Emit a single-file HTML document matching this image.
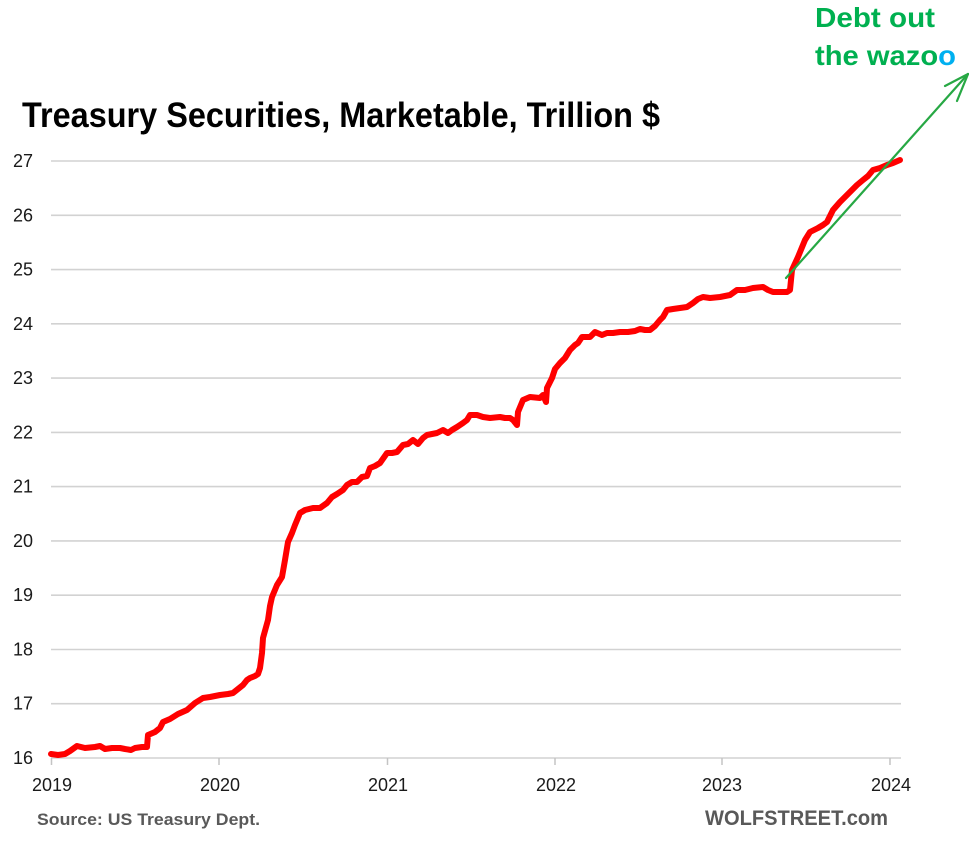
<!DOCTYPE html>
<html><head><meta charset="utf-8"><style>
html,body{margin:0;padding:0;background:#fff;}
svg{display:block;}
</style></head><body>
<svg width="969" height="842" viewBox="0 0 969 842" xmlns="http://www.w3.org/2000/svg" font-family="Liberation Sans, sans-serif">
<rect width="969" height="842" fill="#fff"/>
<!-- gridlines -->
<g stroke="#d2d2d2" stroke-width="1.6">
<line x1="51" y1="161" x2="901" y2="161"/>
<line x1="51" y1="215.3" x2="901" y2="215.3"/>
<line x1="51" y1="269.6" x2="901" y2="269.6"/>
<line x1="51" y1="323.8" x2="901" y2="323.8"/>
<line x1="51" y1="378.1" x2="901" y2="378.1"/>
<line x1="51" y1="432.4" x2="901" y2="432.4"/>
<line x1="51" y1="486.6" x2="901" y2="486.6"/>
<line x1="51" y1="540.9" x2="901" y2="540.9"/>
<line x1="51" y1="595.2" x2="901" y2="595.2"/>
<line x1="51" y1="649.5" x2="901" y2="649.5"/>
<line x1="51" y1="703.7" x2="901" y2="703.7"/>
<line x1="51" y1="758" x2="901" y2="758"/>
</g>
<g stroke="#c4c4c4" stroke-width="1.5">
<line x1="51.5" y1="758" x2="51.5" y2="765"/>
<line x1="219" y1="758" x2="219" y2="765"/>
<line x1="387.5" y1="758" x2="387.5" y2="765"/>
<line x1="555" y1="758" x2="555" y2="765"/>
<line x1="722" y1="758" x2="722" y2="765"/>
<line x1="890" y1="758" x2="890" y2="765"/>
</g>
<!-- y labels -->
<g font-size="18" fill="#1a1a1a" text-anchor="end">
<text x="33" y="167">27</text>
<text x="33" y="221.3">26</text>
<text x="33" y="275.6">25</text>
<text x="33" y="329.8">24</text>
<text x="33" y="384.1">23</text>
<text x="33" y="438.4">22</text>
<text x="33" y="492.6">21</text>
<text x="33" y="546.9">20</text>
<text x="33" y="601.2">19</text>
<text x="33" y="655.5">18</text>
<text x="33" y="709.7">17</text>
<text x="33" y="764">16</text>
</g>
<!-- x labels -->
<g font-size="18" fill="#1a1a1a" text-anchor="middle">
<text x="52" y="791">2019</text>
<text x="220" y="791">2020</text>
<text x="388" y="791">2021</text>
<text x="556" y="791">2022</text>
<text x="722" y="791">2023</text>
<text x="891" y="791">2024</text>
</g>
<!-- series -->
<polyline fill="none" stroke="#ff0000" stroke-width="6" stroke-linejoin="round" stroke-linecap="round" points="51,754 58,755 65,754 70,751 77,746 85,748 95,747 100,746 105,749 112,748 120,748 125,749 131,750 135,748 142,747 147,747 148,735 155,732 160,728 163,722 170,719 178,714 187,710 195,703 203,698 210,697 215,696 220,695 228,694 233,693 238,689 243,685 247,680 250,678 255,676 258,674 260,668 262,653 263,638 268,620 270,606 272,597 277,585 282,577 285,560 288,542 292,533 295,525 300,513 305,510 313,508 320,508 327,503 332,497 337,494 343,490 347,485 352,482 357,482 362,477 367,476 370,468 375,466 380,463 387,453 392,453 397,452 403,445 408,444 413,440 418,444 423,438 427,435 432,434 437,433 443,430 448,433 452,430 457,427 463,423 467,420 470,415 477,415 483,417 490,418 500,417 505,418 510,418 513,420 517,425 518,412 523,400 530,397 540,398 543,395 546,402 547,388 552,378 555,369 560,363 565,358 570,350 575,345 578,343 582,337 590,337 595,332 602,335 607,333 613,333 620,332 628,332 635,331 640,329 645,330 650,330 655,326 660,320 663,317 667,310 673,309 680,308 687,307 693,303 698,299 703,297 710,298 720,297 730,295 737,290 745,290 753,288 763,287 768,290 773,292 780,292 787,292 790,290 792,270 798,257 805,240 810,232 818,228 823,225 827,222 833,210 840,202 845,197 850,192 857,185 863,180 868,176 873,170 880,168 887,165 893,163 900,160"/>
<!-- arrow -->
<g stroke="#27a844" stroke-width="2.2" fill="none" stroke-linecap="round">
<line x1="786" y1="278" x2="968" y2="74"/>
<line x1="968" y1="74" x2="945" y2="86"/>
<line x1="968" y1="74" x2="957" y2="101"/>
</g>
<!-- title -->
<text x="22" y="127" font-size="35" font-weight="bold" fill="#000" textLength="638" lengthAdjust="spacingAndGlyphs">Treasury Securities, Marketable, Trillion $</text>
<!-- annotation -->
<g font-size="28" font-weight="bold" fill="#00b050">
<text x="815" y="27" textLength="120" lengthAdjust="spacingAndGlyphs">Debt out</text>
<text x="815" y="65" textLength="141" lengthAdjust="spacingAndGlyphs">the wazo<tspan fill="#00b0f0">o</tspan></text>
</g>
<!-- footer -->
<text x="37" y="825" font-size="17" font-weight="bold" fill="#595959" textLength="223" lengthAdjust="spacingAndGlyphs">Source: US Treasury  Dept.</text>
<text x="705" y="825" font-size="21" font-weight="bold" fill="#595959" textLength="183" lengthAdjust="spacingAndGlyphs">WOLFSTREET.com</text>
</svg>
</body></html>
